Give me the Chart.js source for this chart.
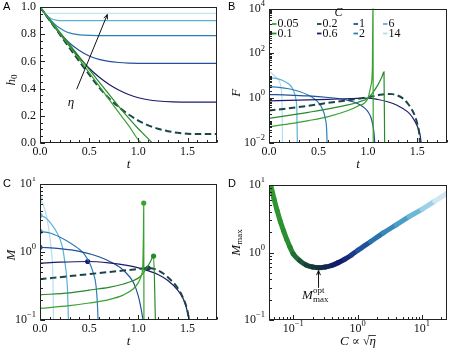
<!DOCTYPE html>
<html>
<head>
<meta charset="utf-8">
<script src="https://cdn.jsdelivr.net/npm/chart.js@4.4.1/dist/chart.umd.min.js"></script>
<style>
  html, body { margin: 0; padding: 0; background: #fff; }
  #fig { position: relative; width: 449px; height: 354px; overflow: hidden; background: #fff; }
  #fig canvas { position: absolute; }
</style>
</head>
<body>
<div id="fig">
  <canvas id="pa" width="225" height="177" style="left:0px;top:0px"></canvas>
  <canvas id="pb" width="224" height="177" style="left:225px;top:0px"></canvas>
  <canvas id="pc" width="225" height="177" style="left:0px;top:177px"></canvas>
  <canvas id="pd" width="224" height="177" style="left:225px;top:177px"></canvas>
</div>
<script>
// ---- data ----
const C_LABELS = ['0.05', '0.1', '0.2', '0.6', '1', '2', '6', '14'];
const C_COLORS = ['#38a22f', '#278a2c', '#1c4547', '#1a1c6c', '#22509a', '#2b80b9', '#5db1d6', '#b7ddee'];

// panel A: [t, h0]
const A_C005 = [[0,1],[0.3,0.71],[0.6,0.42],[0.9,0.13],[1.045,0],[1.8,0]];
const A_C01  = [[0,1],[0.3,0.725],[0.6,0.45],[0.8,0.27],[0.9,0.185],[1.0,0.105],[1.05,0.068],[1.1,0.032],[1.15,0],[1.8,0]];
const A_C02  = [[0,1],[0.2,0.8],[0.4,0.6],[0.6,0.41],[0.7,0.33],[0.8,0.265],[0.9,0.21],[1.0,0.165],[1.1,0.13],[1.2,0.105],[1.3,0.087],[1.4,0.075],[1.5,0.068],[1.6,0.066],[1.8,0.066]];
const A_C06  = [[0,1],[0.1,0.9],[0.2,0.805],[0.3,0.715],[0.4,0.628],[0.5,0.55],[0.6,0.485],[0.7,0.432],[0.8,0.39],[0.9,0.357],[1.0,0.333],[1.1,0.318],[1.2,0.309],[1.35,0.302],[1.55,0.3],[1.8,0.3]];
const A_C1   = [[0,1],[0.1,0.902],[0.2,0.81],[0.3,0.735],[0.4,0.68],[0.5,0.64],[0.6,0.615],[0.7,0.6],[0.8,0.592],[0.9,0.588],[1.1,0.585],[1.8,0.585]];
const A_C2   = [[0,1],[0.05,0.952],[0.1,0.91],[0.15,0.873],[0.2,0.845],[0.25,0.824],[0.3,0.81],[0.35,0.8],[0.4,0.795],[0.5,0.791],[0.6,0.79],[1.8,0.79]];
const A_C6   = [[0,1],[0.03,0.97],[0.06,0.943],[0.09,0.924],[0.12,0.912],[0.16,0.904],[0.22,0.9],[0.3,0.9],[1.8,0.9]];
const A_C14  = [[0,1],[0.02,0.975],[0.04,0.962],[0.06,0.956],[0.09,0.954],[0.15,0.954],[1.8,0.954]];

// panel B: [t, log10 F]
const B_C005 = [[0,-1.28],[0.2,-1.15],[0.4,-1.0],[0.6,-0.82],[0.8,-0.55],[0.9,-0.35],[1.0,0],[1.03,0.55],[1.045,1.3],[1.052,4.5],[1.054,-2.5]];
const B_C01  = [[0,-0.9],[0.2,-0.77],[0.4,-0.63],[0.6,-0.48],[0.8,-0.3],[0.9,-0.18],[1.0,0],[1.05,0.25],[1.1,0.58],[1.14,0.93],[1.163,1.17],[1.17,-2.5]];
const B_C02  = [[0,-0.55],[0.2,-0.45],[0.4,-0.34],[0.6,-0.21],[0.8,-0.09],[1.0,0.04],[1.1,0.13],[1.2,0.19],[1.25,0.18],[1.3,0.12],[1.35,0],[1.4,-0.22],[1.45,-0.55],[1.48,-0.85],[1.5,-1.15],[1.52,-1.6],[1.535,-2.5]];
const B_C06  = [[0,-0.12],[0.3,-0.09],[0.6,-0.05],[0.9,-0.01],[1.0,0],[1.1,-0.06],[1.2,-0.16],[1.3,-0.33],[1.4,-0.6],[1.45,-0.85],[1.5,-1.25],[1.53,-1.7],[1.55,-2.5]];
const B_C1   = [[0,0.16],[0.2,0.14],[0.4,0.1],[0.6,0.03],[0.7,-0.02],[0.8,-0.1],[0.9,-0.25],[0.95,-0.38],[1.0,-0.6],[1.03,-0.85],[1.05,-1.2],[1.065,-1.7],[1.075,-2.5]];
const B_C2   = [[0,0.51],[0.1,0.48],[0.2,0.42],[0.3,0.31],[0.4,0.13],[0.45,0],[0.5,-0.2],[0.54,-0.48],[0.57,-0.92],[0.584,-1.5],[0.59,-2.5]];
const B_C6   = [[0,0.92],[0.07,0.88],[0.14,0.79],[0.2,0.63],[0.23,0.49],[0.255,0.25],[0.272,-0.05],[0.282,-0.6],[0.288,-2.5]];
const B_C14  = [[0,1.2],[0.03,1.1],[0.06,0.98],[0.09,0.85],[0.11,0.7],[0.122,0.45],[0.13,0.05],[0.134,-0.8],[0.136,-2.5]];

// panel C: [t, log10 M]
const C_C005 = [[0,-0.83],[0.3,-0.79],[0.5,-0.75],[0.7,-0.7],[0.85,-0.63],[0.95,-0.54],[1.0,-0.45],[1.03,-0.35],[1.045,-0.2],[1.052,0.3],[1.055,0.72],[1.057,-1.1]];
const C_C01  = [[0,-0.63],[0.3,-0.6],[0.5,-0.56],[0.7,-0.52],[0.85,-0.47],[0.95,-0.42],[1.02,-0.36],[1.08,-0.25],[1.12,-0.15],[1.155,-0.06],[1.175,-1.1]];
const C_C02  = [[0,-0.40],[0.2,-0.37],[0.4,-0.34],[0.6,-0.31],[0.8,-0.28],[1.0,-0.25],[1.1,-0.235],[1.2,-0.27],[1.3,-0.37],[1.4,-0.53],[1.45,-0.66],[1.5,-0.87],[1.525,-1.1]];
const C_C06  = [[0,-0.165],[0.2,-0.15],[0.485,-0.14],[0.7,-0.16],[0.9,-0.2],[1.02,-0.24],[1.2,-0.33],[1.3,-0.42],[1.4,-0.56],[1.46,-0.7],[1.5,-0.88],[1.52,-1.0],[1.53,-1.1]];
const C_C1   = [[0,0.07],[0.2,0.05],[0.4,0.01],[0.6,-0.07],[0.75,-0.17],[0.85,-0.27],[0.95,-0.45],[1.0,-0.65],[1.03,-0.85],[1.05,-1.02],[1.06,-1.1]];
const C_C2   = [[0,0.30],[0.1,0.28],[0.2,0.22],[0.3,0.14],[0.4,0.04],[0.45,-0.03],[0.5,-0.15],[0.54,-0.3],[0.57,-0.5],[0.585,-0.8],[0.593,-1.1]];
const C_C6   = [[0,0.54],[0.05,0.51],[0.1,0.44],[0.15,0.34],[0.2,0.2],[0.23,0.06],[0.25,-0.12],[0.27,-0.35],[0.28,-0.56],[0.287,-0.9],[0.29,-1.1]];
const C_C14  = [[0,0.79],[0.034,0.69],[0.068,0.52],[0.1,0.22],[0.12,-0.05],[0.129,-0.25],[0.134,-0.6],[0.137,-1.1]];

// panel D: [log10 C, log10 Mmax]
const D_CURVE = [[-1.35,1.0],[-1.3,0.8],[-1.25,0.62],[-1.2,0.46],[-1.15,0.32],[-1.1,0.19],[-1.05,0.08],[-1.0,-0.02],
  [-0.9,-0.12],[-0.8,-0.185],[-0.7,-0.215],[-0.6,-0.225],[-0.5,-0.215],[-0.4,-0.19],[-0.3,-0.15],[-0.2,-0.1],
  [-0.1,-0.04],[0,0.03],[0.2,0.16],[0.4,0.29],[0.6,0.41],[0.8,0.53],[1.0,0.64],[1.2,0.76],[1.39,0.88]];

// tick labels
const T_TICKS = [0, 0.5, 1.0, 1.5];
const H_TICKS = [0, 0.2, 0.4, 0.6, 0.8, 1.0];
const F_TICKS = [1e-2, 1, 1e2, 1e4];
const M_TICKS = [0.1, 1, 10];
const CX_TICKS = [0.1, 1, 10];

const A_SERIES = [A_C005, A_C01, A_C02, A_C06, A_C1, A_C2, A_C6, A_C14];
const B_SERIES = [B_C005, B_C01, B_C02, B_C06, B_C1, B_C2, B_C6, B_C14];
const C_SERIES = [C_C005, C_C01, C_C02, C_C06, C_C1, C_C2, C_C6, C_C14];

// ---- helpers ----
const SERIF = '"Liberation Serif", "DejaVu Serif", serif';
const fnt = (size, italic) => (italic ? 'italic ' : '') + size + 'px ' + SERIF;

function drawRich(ctx, segs, x, y, align, rotate) {
  ctx.save();
  ctx.translate(x, y);
  if (rotate) ctx.rotate(-Math.PI / 2);
  let w = 0;
  segs.forEach(s => { ctx.font = fnt(s.size || 12, s.italic); s.w = ctx.measureText(s.text).width; w += s.w; });
  let cx = align === 'right' ? -w : -w / 2;
  ctx.textBaseline = 'middle';
  ctx.textAlign = 'left';
  ctx.fillStyle = '#111';
  segs.forEach(s => {
    ctx.font = fnt(s.size || 12, s.italic);
    ctx.fillText(s.text, cx, s.dy || 0);
    if (s.over) {
      ctx.strokeStyle = '#111'; ctx.lineWidth = 0.8;
      ctx.beginPath(); ctx.moveTo(cx - 1, -s.size * 0.5); ctx.lineTo(cx + s.w, -s.size * 0.5); ctx.stroke();
    }
    cx += s.w;
  });
  ctx.restore();
}

const linLabel = v => [{ text: v.toFixed(1), size: 12 }];
const logLabel = v => {
  const e = Math.round(Math.log10(v));
  return [{ text: '10', size: 12 }, { text: (e < 0 ? '\u2212' : '') + Math.abs(e), size: 8.5, dy: -5 }];
};
function linMinor(min, max, step) {
  const out = [];
  for (let v = min; v <= max + 1e-9; v += step) out.push(+v.toFixed(6));
  return out;
}
function logMinor(min, max) {
  const out = [];
  for (let d = Math.floor(Math.log10(min)); d < Math.ceil(Math.log10(max)); d++)
    for (let k = 1; k < 10; k++) { const v = k * Math.pow(10, d); if (v >= min && v <= max) out.push(v); }
  return out;
}

function drawArrow(ctx, x0, y0, x1, y1) {
  const ang = Math.atan2(y1 - y0, x1 - x0), hl = 5, ha = 0.4;
  ctx.beginPath();
  ctx.moveTo(x0, y0); ctx.lineTo(x1, y1);
  ctx.moveTo(x1 - hl * Math.cos(ang - ha), y1 - hl * Math.sin(ang - ha));
  ctx.lineTo(x1, y1);
  ctx.lineTo(x1 - hl * Math.cos(ang + ha), y1 - hl * Math.sin(ang + ha));
  ctx.stroke();
}

function framePlugin(cfg) {
  return {
    id: 'frame' + cfg.letter,
    afterDraw(chart) {
      const ctx = chart.ctx, a = chart.chartArea;
      const xs = chart.scales.x, ys = chart.scales.y;
      const L = Math.round(a.left) + 0.5, R = Math.round(a.right) - 0.5;
      const T = Math.round(a.top) + 0.5, B = Math.round(a.bottom) - 0.5;
      ctx.save();
      ctx.strokeStyle = '#222'; ctx.lineWidth = 1;
      ctx.strokeRect(L, T, R - L, B - T);
      ctx.beginPath();
      cfg.xMinor.forEach(v => { const p = Math.round(xs.getPixelForValue(v)) + 0.5; ctx.moveTo(p, B); ctx.lineTo(p, B - 2.5); });
      cfg.yMinor.forEach(v => { const p = Math.round(ys.getPixelForValue(v)) + 0.5; ctx.moveTo(L, p); ctx.lineTo(L + 2.5, p); });
      cfg.xMajor.forEach(v => { const p = Math.round(xs.getPixelForValue(v)) + 0.5; ctx.moveTo(p, B); ctx.lineTo(p, B - 4.5); });
      cfg.yMajor.forEach(v => { const p = Math.round(ys.getPixelForValue(v)) + 0.5; ctx.moveTo(L, p); ctx.lineTo(L + 4.5, p); });
      ctx.stroke();
      cfg.xMajor.forEach(v => drawRich(ctx, cfg.xFmt(v), xs.getPixelForValue(v), a.bottom + 9, 'center'));
      cfg.yMajor.forEach(v => drawRich(ctx, cfg.yFmt(v), a.left - 4, ys.getPixelForValue(v), 'right'));
      drawRich(ctx, cfg.xTitle, (a.left + a.right) / 2, a.bottom + 22, 'center');
      drawRich(ctx, cfg.yTitle, a.left - cfg.yTitleOff, (a.top + a.bottom) / 2 + (cfg.yTitleShift || 0), 'center', true);
      ctx.font = '11px "Liberation Sans", Arial, sans-serif';
      ctx.fillStyle = '#000'; ctx.textBaseline = 'top'; ctx.textAlign = 'left';
      ctx.fillText(cfg.letter, 3, 1);
      if (cfg.extra) cfg.extra(chart, ctx);
      ctx.restore();
    }
  };
}

function lineSets(series, toY, opts) {
  return series.map((s, i) => ({
    data: s.map(([x, y]) => ({ x, y: toY(y) })),
    borderColor: C_COLORS[i],
    borderWidth: i === 2 ? 2 : 1.2,
    borderDash: i === 2 ? [6.5, 3.5] : [],
    pointRadius: 0,
    cubicInterpolationMode: 'monotone',
    ...(opts || {})
  }));
}

const base = (padding, x, y) => ({
  responsive: false, animation: false, devicePixelRatio: 1, events: [],
  layout: { padding },
  plugins: { legend: { display: false }, tooltip: { enabled: false } },
  scales: { x: { display: false, ...x }, y: { display: false, ...y } }
});

const pow10 = v => Math.pow(10, v);

// ---- panel A ----
const A_ARROW = [[0.373, 0.395], [0.685, 0.945]];
const A_ETA = [0.315, 0.30];
new Chart(document.getElementById('pa'), {
  type: 'line',
  data: { datasets: lineSets(A_SERIES, v => v) },
  options: base({ left: 40, top: 7, right: 8, bottom: 34 },
    { type: 'linear', min: 0, max: 1.8 }, { type: 'linear', min: 0, max: 1.0 }),
  plugins: [framePlugin({
    letter: 'A', xMajor: T_TICKS, yMajor: H_TICKS,
    xMinor: linMinor(0, 1.8, 0.1), yMinor: linMinor(0, 1, 0.05),
    xFmt: linLabel, yFmt: linLabel,
    xTitle: [{ text: 't', size: 13, italic: true }],
    yTitle: [{ text: 'h', size: 13, italic: true }, { text: '0', size: 9, dy: 3 }],
    yTitleOff: 28, yTitleShift: 5,
    extra(chart, ctx) {
      const xs = chart.scales.x, ys = chart.scales.y;
      ctx.strokeStyle = '#111'; ctx.lineWidth = 1;
      drawArrow(ctx, xs.getPixelForValue(A_ARROW[0][0]), ys.getPixelForValue(A_ARROW[0][1]),
        xs.getPixelForValue(A_ARROW[1][0]), ys.getPixelForValue(A_ARROW[1][1]));
      drawRich(ctx, [{ text: '\u03b7', size: 13, italic: true }], xs.getPixelForValue(A_ETA[0]), ys.getPixelForValue(A_ETA[1]), 'center');
    }
  })]
});

// ---- panel B ----
new Chart(document.getElementById('pb'), {
  type: 'line',
  data: { datasets: lineSets(B_SERIES, pow10) },
  options: base({ left: 44, top: 8.5, right: 2, bottom: 34 },
    { type: 'linear', min: 0, max: 1.8 }, { type: 'logarithmic', min: 1e-2, max: 1e4 }),
  plugins: [framePlugin({
    letter: 'B', xMajor: T_TICKS, yMajor: F_TICKS,
    xMinor: linMinor(0, 1.8, 0.1), yMinor: logMinor(1e-2, 1e4),
    xFmt: linLabel, yFmt: logLabel,
    xTitle: [{ text: 't', size: 13, italic: true }],
    yTitle: [{ text: 'F', size: 13, italic: true }],
    yTitleOff: 32, yTitleShift: 17,
    extra(chart, ctx) {
      // legend, 4 columns x 2 rows
      drawRich(ctx, [{ text: 'C', size: 12, italic: true }], 338.5 - 225, 13, 'center');
      const colMark = [272, 317, 353.5, 383], rowY = [24, 33.5];
      C_LABELS.forEach((lab, i) => {
        const c = Math.floor(i / 2), r = i % 2;
        const x0 = colMark[c] - 225;
        ctx.strokeStyle = C_COLORS[i]; ctx.lineWidth = 1.8;
        ctx.beginPath(); ctx.moveTo(x0, rowY[r]); ctx.lineTo(x0 + 4.5, rowY[r]); ctx.stroke();
        ctx.fillStyle = '#111'; ctx.font = fnt(12); ctx.textBaseline = 'middle'; ctx.textAlign = 'left';
        ctx.fillText(lab, x0 + 5.5, rowY[r]);
      });
    }
  })]
});

// ---- panel C ----
const peakOf = s => s.reduce((b, p) => (p[1] > b[1] ? p : b));
const cLines = lineSets(C_SERIES, pow10);
const cPeaks = C_SERIES.map((s, i) => {
  const p = peakOf(s);
  return { data: [{ x: p[0], y: pow10(p[1]) }], showLine: false, pointRadius: 2.6,
    pointBackgroundColor: C_COLORS[i], pointBorderColor: C_COLORS[i], pointBorderWidth: 0 };
});
new Chart(document.getElementById('pc'), {
  type: 'line',
  data: { datasets: cLines.concat(cPeaks) },
  options: base({ left: 40, top: 7, right: 8, bottom: 34 },
    { type: 'linear', min: 0, max: 1.8 }, { type: 'logarithmic', min: 0.1, max: 10 }),
  plugins: [framePlugin({
    letter: 'C', xMajor: T_TICKS, yMajor: M_TICKS,
    xMinor: linMinor(0, 1.8, 0.1), yMinor: logMinor(0.1, 10),
    xFmt: linLabel, yFmt: logLabel,
    xTitle: [{ text: 't', size: 13, italic: true }],
    yTitle: [{ text: 'M', size: 13, italic: true }],
    yTitleOff: 28, yTitleShift: 3
  })]
});

// ---- panel D ----
const CMAP = [[-1.4, '#2f9c2f'], [-1.05, '#2a8c30'], [-0.92, '#1f6436'], [-0.78, '#17443a'], [-0.6, '#123434'],
  [-0.42, '#12245c'], [-0.25, '#111a6c'], [0, '#1c4290'], [0.3, '#2a72ac'], [0.78, '#4fa6cc'],
  [1.15, '#a9d6ea'], [1.4, '#e8f4f9']];
const hex = h => [1, 3, 5].map(i => parseInt(h.slice(i, i + 2), 16));
function cmap(v) {
  if (v <= CMAP[0][0]) return CMAP[0][1];
  for (let i = 1; i < CMAP.length; i++) {
    if (v <= CMAP[i][0]) {
      const f = (v - CMAP[i - 1][0]) / (CMAP[i][0] - CMAP[i - 1][0]);
      const a = hex(CMAP[i - 1][1]), b = hex(CMAP[i][1]);
      return 'rgb(' + a.map((c, k) => Math.round(c + (b[k] - c) * f)).join(',') + ')';
    }
  }
  return CMAP[CMAP.length - 1][1];
}
const D_OPT_TEXT = [0.21, 0.245];
const D_OPT_ARROW = [[0.247, 0.30], [0.247, 0.54]];
new Chart(document.getElementById('pd'), {
  type: 'line',
  data: { datasets: [{
    data: D_CURVE.map(([lc, lm]) => ({ x: pow10(lc), y: pow10(lm) })),
    borderWidth: 5, pointRadius: 0, borderCapStyle: 'round', borderJoinStyle: 'round',
    cubicInterpolationMode: 'monotone', borderColor: '#1b4246',
    segment: { borderColor: c => cmap((Math.log10(c.p0.parsed.x) + Math.log10(c.p1.parsed.x)) / 2) }
  }] },
  options: base({ left: 44, top: 8, right: 2, bottom: 34 },
    { type: 'logarithmic', min: 0.042, max: 24.5 }, { type: 'logarithmic', min: 0.1, max: 10 }),
  plugins: [framePlugin({
    letter: 'D', xMajor: CX_TICKS, yMajor: M_TICKS,
    xMinor: logMinor(0.042, 24.5), yMinor: logMinor(0.1, 10),
    xFmt: logLabel, yFmt: logLabel,
    xTitle: [{ text: 'C', size: 13, italic: true }, { text: ' \u221d ', size: 12 }, { text: '\u221a', size: 12 },
      { text: '\u03b7', size: 13, italic: true, over: true }],
    yTitle: [{ text: 'M', size: 13, italic: true }, { text: 'max', size: 9, dy: 3 }],
    yTitleOff: 32, yTitleShift: -10,
    extra(chart, ctx) {
      const xs = chart.scales.x, ys = chart.scales.y;
      ctx.strokeStyle = '#111'; ctx.lineWidth = 1;
      drawArrow(ctx, xs.getPixelForValue(D_OPT_ARROW[0][0]), ys.getPixelForValue(D_OPT_ARROW[0][1]),
        xs.getPixelForValue(D_OPT_ARROW[1][0]), ys.getPixelForValue(D_OPT_ARROW[1][1]));
      const tx = xs.getPixelForValue(D_OPT_TEXT[0]), ty = ys.getPixelForValue(D_OPT_TEXT[1]);
      ctx.fillStyle = '#111'; ctx.textBaseline = 'middle'; ctx.textAlign = 'left';
      ctx.font = fnt(13, true); ctx.fillText('M', tx - 12, ty + 2);
      ctx.font = fnt(9); ctx.fillText('opt', tx - 1, ty - 3.5); ctx.fillText('max', tx - 1, ty + 6);
    }
  })]
});
</script>
</body>
</html>
